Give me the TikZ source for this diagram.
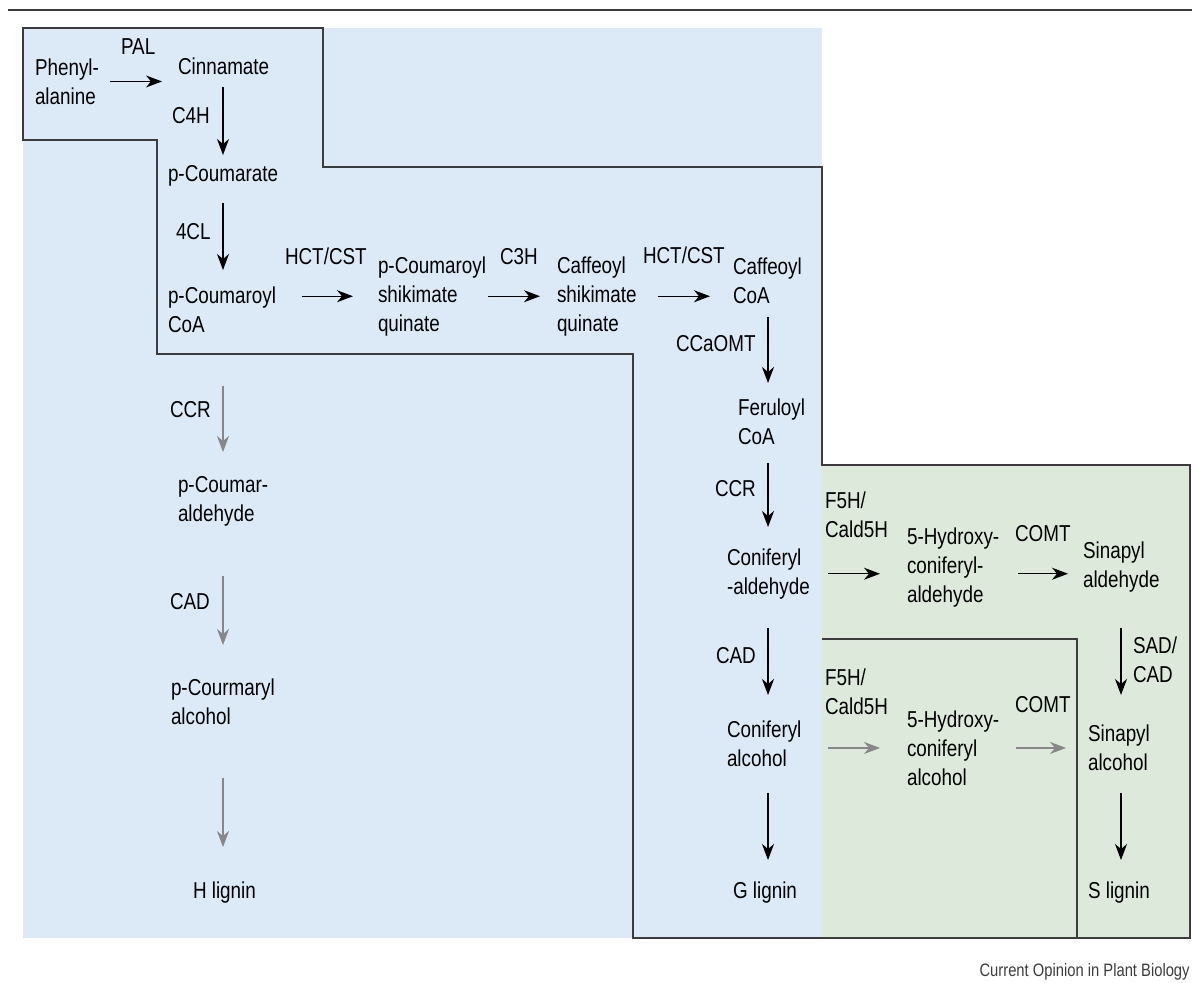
\documentclass[tikz,border=0pt]{standalone}
\usepackage{fontspec}
\setmainfont{Liberation Sans}[FakeStretch=0.82]
\usetikzlibrary{arrows.meta}
\definecolor{paleblue}{RGB}{220,234,247}
\definecolor{palegreen}{RGB}{221,234,219}
\definecolor{boxline}{RGB}{60,60,60}
\definecolor{minorgray}{RGB}{135,135,135}
\tikzset{
	compound/.style = {
		anchor=north west,
		align=left,
		inner sep=0pt,
		outer sep=0pt,
		font=\fontsize{11.5pt}{14.5pt}\selectfont
	},
	enzyme/.style = {
		compound
	},
	conv/.style = {
		-{Stealth[length=8pt,width=6pt,inset=2.5pt]},
		line width=0.6pt
	},
	minor/.style = {
		conv,
		draw=minorgray
	},
	region/.style = {
		draw=boxline,
		line width=0.75pt
	}
}

\begin{document}
\begin{tikzpicture}[x=0.5pt,y=-0.5pt]
	\useasboundingbox (0,0) rectangle (1198,982);
	
	% --- Background areas ---
	\fill[paleblue] (23,28) rectangle (822,938);
	\fill[palegreen] (822,465) rectangle (1190,938);
	\draw[boxline, line width=1pt] (8,10) -- (1192,10);
	
	% outline of the common pathway
	\draw[region] (23,28) -- (323,28) -- (323,167) -- (822,167) -- (822,465)
	-- (1190,465) -- (1190,938) -- (633,938) -- (633,354) -- (157,354)
	-- (157,140) -- (23,140) -- cycle;
	% inner box (alcohol route)
	\draw[region] (822,639) -- (1077,639) -- (1077,938);
	
	% --- Columns for vertical arrows ---
	\coordinate (hcol) at (223,0);
	\coordinate (gcol) at (768,0);
	\coordinate (scol) at (1121,0);
	
	% --- Compounds ---
	\node[compound] (phe) at (35,58.5) {Phenyl-\\alanine};
	\node[compound] (cin) at (178,57.5) {Cinnamate};
	\node[compound] (pca) at (168,165.5) {p-Coumarate};
	\node[compound] (pcoa) at (168,286.5) {p-Coumaroyl\\CoA};
	\node[compound] (pcs) at (378,256.5) {p-Coumaroyl\\shikimate\\quinate};
	\node[compound] (cfs) at (557,256.5) {Caffeoyl\\shikimate\\quinate};
	\node[compound] (cfcoa) at (733,257.5) {Caffeoyl\\CoA};
	\node[compound] (fcoa) at (738,398.5) {Feruloyl\\CoA};
	\node[compound] (conald) at (727,548.5) {Coniferyl\\-aldehyde};
	\node[compound] (conalc) at (727,720.5) {Coniferyl\\alcohol};
	\node[compound] (glig) at (733,881.5) {G lignin};
	\node[compound] (hcald) at (907,527.5) {5-Hydroxy-\\coniferyl-\\aldehyde};
	\node[compound] (sinald) at (1083,541.5) {Sinapyl\\aldehyde};
	\node[compound] (hcalc) at (907,710.5) {5-Hydroxy-\\coniferyl\\alcohol};
	\node[compound] (sinalc) at (1088,724.5) {Sinapyl\\alcohol};
	\node[compound] (slig) at (1088,881.5) {S lignin};
	\node[compound] (pcald) at (178,476.5) {p-Coumar-\\aldehyde};
	\node[compound] (pcalc) at (171,678.5) {p-Courmaryl\\alcohol};
	\node[compound] (hlig) at (193,881.5) {H lignin};
	
	% --- Enzymes ---
	\node[enzyme] (pal) at (121,38.5) {PAL};
	\node[enzyme] (c4h) at (172,107.5) {C4H};
	\node[enzyme] (fcl) at (176,223.5) {4CL};
	\node[enzyme] (hct1) at (285,247.5) {HCT/CST};
	\node[enzyme] (c3h) at (500,248.5) {C3H};
	\node[enzyme] (hct2) at (643,246.5) {HCT/CST};
	\node[enzyme] (ccoamt) at (676,335.5) {CCaOMT};
	\node[enzyme] (ccrg) at (715,480.5) {CCR};
	\node[enzyme] (cadg) at (716,647.5) {CAD};
	\node[enzyme] (f5h1) at (825,491.5) {F5H/\\Cald5H};
	\node[enzyme] (comt1) at (1015,525.5) {COMT};
	\node[enzyme] (sad) at (1133,636.5) {SAD/\\CAD};
	\node[enzyme] (f5h2) at (825,668.5) {F5H/\\Cald5H};
	\node[enzyme] (comt2) at (1015,696.5) {COMT};
	\node[enzyme] (ccrh) at (170,401.5) {CCR};
	\node[enzyme] (cadh) at (170,593.5) {CAD};
	
	% --- Main route ---
	\draw[conv, shorten <=5.5pt, shorten >=8pt] (phe.east) -- (phe.east -| cin.west);
	\draw[conv, shorten <=6.5pt, shorten >=5.25pt] (cin.south -| hcol) -- (pca.north -| hcol);
	\draw[conv, shorten <=8.5pt, shorten >=8.25pt] (pca.south -| hcol) -- (pcoa.north -| hcol);
	\draw[conv, shorten <=13pt, shorten >=12.5pt] (pcoa.east |- pcs.west) -- (pcs.west);
	\draw[conv, shorten <=1pt, shorten >=8.5pt] (pcs.east) -- (cfs.west);
	\draw[conv, shorten <=10.5pt, shorten >=11.5pt] (cfs.east) -- (cfs.east -| cfcoa.west);
	\draw[conv, shorten <=7pt, shorten >=7.75pt] (cfcoa.south -| gcol) -- (fcoa.north -| gcol);
	\draw[conv, shorten <=9.5pt, shorten >=10.75pt] (fcoa.south -| gcol) -- (conald.north -| gcol);
	\draw[conv, shorten <=14.5pt, shorten >=12.75pt] (conald.south -| gcol) -- (conalc.north -| gcol);
	\draw[conv, shorten <=13.5pt, shorten >=10.75pt] (conalc.south -| gcol) -- (glig.north -| gcol);
	
	% S branch
	\draw[conv, shorten <=9pt, shorten >=13.5pt] (conald.east) -- (conald.east -| hcald.west);
	\draw[conv, shorten <=9.5pt, shorten >=7.5pt] (hcald.east |- conald.east) -- (sinald.west |- conald.east);
	\draw[conv, shorten <=18pt, shorten >=14.75pt] (sinald.south -| scol) -- (sinalc.north -| scol);
	\draw[conv, shorten <=11.5pt, shorten >=10.75pt] (sinalc.south -| scol) -- (slig.north -| scol);
	
	% --- Minor routes (grey) ---
	\draw[minor, shorten <=27pt, shorten >=12.25pt] (pcoa.south -| hcol) -- (pcald.north -| hcol);
	\draw[minor, shorten <=25pt, shorten >=16.75pt] (pcald.south -| hcol) -- (pcalc.north -| hcol);
	\draw[minor, shorten <=27pt, shorten >=17.25pt] (pcalc.south -| hcol) -- (hlig.north -| hcol);
	\draw[minor, shorten <=13.5pt, shorten >=13.5pt] (conalc.east |- hcalc.west) -- (hcalc.west);
	\draw[minor, shorten <=8.5pt, shorten >=11pt] (hcalc.east) -- (hcalc.east -| sinalc.west);
	
	% --- Credit ---
	\node[anchor=base east, inner sep=0pt, text=boxline, font=\fontsize{9pt}{11pt}\selectfont] (credit) at (1190,976) {Current Opinion in Plant Biology};
	
\end{tikzpicture}
\end{document}
